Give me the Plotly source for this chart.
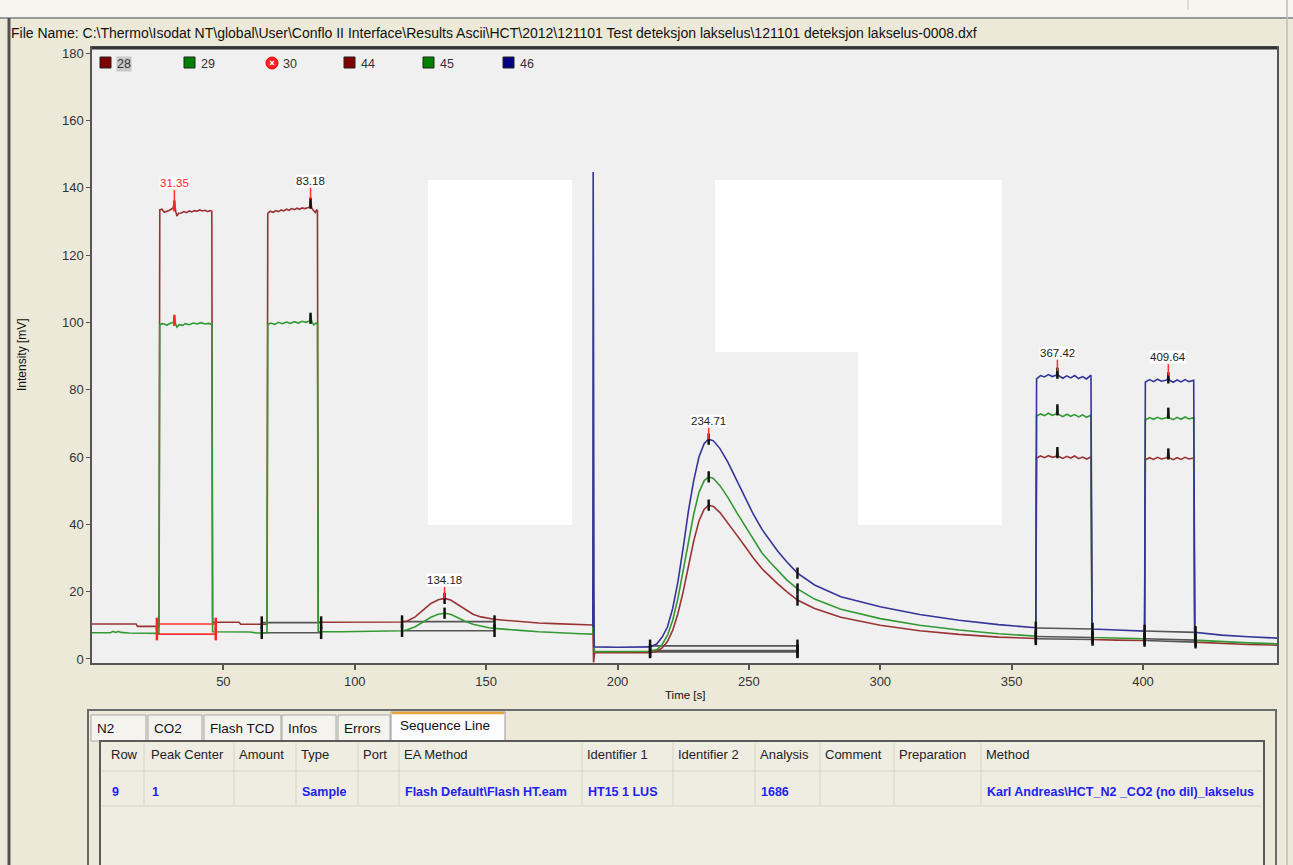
import plotly.graph_objects as go

W, H = 1293, 865
L, R, T, B = 92, 1277, 48, 663


def px(x):
    return (x - L) / (R - L)


def py(y):
    return (B - y) / (B - T)


# ---------------- data ----------------
legend_labels = ["28", "29", "30", "44", "45", "46"]
x_ticks = [50, 100, 150, 200, 250, 300, 350, 400]
y_ticks = [0, 20, 40, 60, 80, 100, 120, 140, 160, 180]

trace28 = [(0, 10.4), (8, 10.4), (16.8, 10.4), (17.3, 9.7), (25.5, 9.7), (25.8, 133.4), (26.6, 133.6),
           (27.5, 132.7), (28.5, 133.0), (29.5, 133.3), (30.9, 134.0), (31.35, 136.0), (31.8, 133.2),
           (32.3, 131.6), (33.0, 132.4), (34.0, 132.5), (35.0, 132.9), (36.0, 132.6), (37.0, 133.1),
           (38.0, 132.8), (39.0, 133.2), (40.0, 133.0), (41.0, 133.4), (42.0, 133.1), (43.0, 133.3),
           (44.0, 132.9), (45.0, 133.2), (45.6, 133.0), (45.9, 10.9), (50, 10.9), (56.0, 10.9),
           (56.6, 10.3), (64, 10.3), (66.6, 10.3), (66.9, 132.4), (67.8, 133.0), (69, 132.7),
           (70, 133.2), (71, 132.9), (72, 133.4), (73, 133.1), (74, 133.6), (75, 133.3), (76, 133.8),
           (77, 133.5), (78, 133.9), (79, 133.6), (80, 134.0), (81, 133.8), (82.8, 134.2),
           (83.18, 136.6), (83.6, 134.0), (84.3, 133.2), (85.0, 132.6), (85.5, 133.4), (85.8, 133.2),
           (86.1, 10.9), (95, 10.9), (105, 10.9), (112, 11.0), (118, 11.0), (120, 11.3), (123, 12.5),
           (126, 14.5), (129, 16.5), (131.8, 17.6), (134.2, 18.0), (136.5, 17.5), (139, 16.2),
           (142, 14.6), (145, 13.3), (148, 12.5), (151, 12.0), (153, 11.8), (157, 11.5), (163, 11.1),
           (170, 10.7), (176, 10.5), (181, 10.3), (186, 10.2), (190.6, 10.1)]

trace29 = [(0, 7.8), (7, 7.8), (8, 8.2), (9, 7.9), (10, 8.2), (11, 7.9), (14, 7.7), (20, 7.6),
           (25.5, 7.6), (25.8, 99.4), (27, 99.6), (28.5, 99.2), (30.0, 99.8), (30.9, 99.9),
           (31.35, 101.6), (31.8, 99.6), (32.3, 98.6), (33.2, 99.3), (34.5, 99.1), (35.5, 99.6),
           (37, 99.3), (38.5, 99.8), (40, 99.5), (41.5, 99.9), (43, 99.5), (44.5, 99.7), (45.6, 99.4),
           (45.9, 8.1), (55, 8.1), (60, 8.0), (63, 7.7), (66.6, 7.7), (66.9, 99.3), (68, 99.8),
           (69.5, 99.4), (71, 100.0), (72.5, 99.6), (74, 100.1), (75.5, 99.7), (77, 100.2),
           (78.5, 99.8), (80, 100.3), (81.5, 100.0), (82.8, 100.4), (83.18, 102.2), (83.6, 100.3),
           (84.4, 99.2), (85.2, 99.8), (85.8, 99.5), (86.1, 8.1), (95, 8.1), (105, 8.2), (112, 8.3),
           (118, 8.4), (120, 8.7), (123, 9.6), (126, 11.0), (129, 12.4), (131.8, 13.3), (134.2, 13.6),
           (136.5, 13.3), (139, 12.3), (142, 11.2), (145, 10.3), (148, 9.7), (151, 9.3), (153, 9.1),
           (157, 8.8), (163, 8.5), (170, 8.1), (176, 7.8), (181, 7.6), (186, 7.5), (190.6, 7.4)]

trace44 = [(190.6, 10.1), (190.9, -1.0), (191.3, 1.9), (200, 1.9), (212.4, 1.9), (215, 2.3), (217, 3.3),
           (219, 5.2), (221, 8.5), (223, 13.5), (225, 20.0), (227, 27.5), (229, 35.0), (231, 41.0),
           (233, 44.5), (234.7, 45.7), (236.5, 45.3), (239, 43.5), (242, 40.5), (245.4, 36.8),
           (248.5, 33.5), (251.7, 30.0), (255, 26.8), (258, 24.5), (261, 22.3), (264.4, 20.0),
           (268.5, 17.5), (275, 15.0), (285, 12.4), (300, 10.0), (315, 8.4), (330, 7.3), (345, 6.5),
           (359.2, 6.1), (359.5, 59.7), (361, 60.3), (362.5, 59.8), (364, 60.4), (365.5, 59.9),
           (367.0, 60.2), (367.42, 62.0), (367.8, 60.2), (369.5, 59.6), (371, 60.2), (372.5, 59.7),
           (374, 60.3), (375.5, 59.5), (377, 60.0), (378.5, 59.4), (380.2, 60.0), (380.6, 5.8),
           (390, 5.6), (400.6, 5.5), (400.9, 59.2), (402.5, 59.8), (404, 59.3), (405.5, 59.9),
           (407, 59.4), (409.2, 59.8), (409.64, 61.6), (410.0, 59.8), (411.5, 59.2), (413, 59.8),
           (414.5, 59.3), (416, 59.9), (417.5, 59.4), (419.3, 59.7), (419.7, 5.0), (430, 4.6),
           (440, 4.3), (451, 4.1)]

trace45 = [(190.6, 7.4), (190.9, 17.0), (191.2, 2.2), (200, 2.2), (212.4, 2.3), (215, 2.8), (217, 4.3),
           (219, 7.0), (221, 11.5), (223, 18.0), (225, 26.0), (227, 35.0), (229, 43.0), (231, 49.5),
           (233, 53.0), (234.7, 54.1), (236.5, 53.6), (239, 51.5), (242, 48.0), (245.4, 43.5),
           (248.5, 39.5), (251.7, 35.5), (255, 31.5), (258, 28.8), (261, 26.2), (264.4, 23.5),
           (268.5, 20.8), (275, 17.8), (285, 14.8), (300, 12.0), (315, 10.0), (330, 8.6), (345, 7.5),
           (359.2, 6.8), (359.5, 72.2), (361, 72.8), (362.5, 72.3), (364, 73.0), (365.5, 72.4),
           (367.0, 72.8), (367.42, 74.6), (367.8, 72.7), (369.5, 72.0), (371, 72.7), (372.5, 72.1),
           (374, 72.6), (375.5, 71.9), (377, 72.5), (378.5, 71.8), (380.2, 72.4), (380.6, 6.4),
           (390, 6.2), (400.6, 6.0), (400.9, 71.0), (402.5, 71.7), (404, 71.2), (405.5, 71.8),
           (407, 71.3), (409.2, 71.7), (409.64, 73.6), (410.0, 71.7), (411.5, 71.1), (413, 71.8),
           (414.5, 71.2), (416, 71.9), (417.5, 71.3), (419.3, 71.7), (419.7, 5.6), (430, 5.1),
           (440, 4.8), (451, 4.5)]

trace46 = [(190.6, 9.5), (190.75, 144.7), (191.1, 3.6), (200, 3.5), (212.4, 3.6), (215, 4.5), (217, 6.5),
           (219, 9.5), (221, 15.0), (223, 23.0), (225, 33.0), (227, 44.0), (229, 53.0), (231, 60.0),
           (233, 64.0), (234.7, 65.3), (236.5, 64.8), (239, 62.5), (242, 58.5), (245.4, 53.0),
           (248.5, 48.0), (251.7, 43.0), (255, 38.5), (258, 35.3), (261, 32.0), (264.4, 28.9),
           (268.5, 25.5), (275, 22.0), (285, 18.5), (300, 15.5), (315, 13.2), (330, 11.5), (345, 10.2),
           (359.2, 9.3), (359.5, 83.2), (361, 84.2), (362.5, 83.8), (364, 84.5), (365.5, 83.9),
           (367.0, 84.3), (367.42, 85.6), (367.8, 84.2), (369.5, 83.4), (371, 84.1), (372.5, 83.5),
           (374, 84.2), (375.5, 83.3), (377, 83.9), (378.5, 83.2), (380.2, 84.3), (380.6, 8.9),
           (390, 8.6), (400.6, 8.3), (400.9, 82.3), (402.5, 83.0), (404, 82.4), (405.5, 83.1),
           (407, 82.5), (409.2, 82.9), (409.64, 84.2), (410.0, 82.9), (411.5, 82.2), (413, 82.9),
           (414.5, 82.3), (416, 83.0), (417.5, 82.4), (419.3, 82.8), (419.7, 7.9), (430, 7.1),
           (440, 6.6), (451, 6.2)]

peak_centers = [31.35, 83.18, 134.18, 234.71, 367.42, 409.64]
peak_labels = ["31.35", "83.18", "134.18", "234.71", "367.42", "409.64"]
peak_tops = [136.0, 136.6, 18.0, 65.3, 85.6, 84.2]

# apex tick marks (time, value) on each trace
apex_red_t = [31.35, 31.35]
apex_red_v = [134.6, 100.6]
apex_blk_t = [83.18, 83.18, 134.18, 134.18, 234.71, 234.71, 234.71,
              367.42, 367.42, 367.42, 409.64, 409.64, 409.64, 268.5, 268.5, 268.5]
apex_blk_v = [135.4, 101.2, 18.0, 13.6, 65.3, 54.1, 45.7,
              84.9, 74.0, 61.3, 83.5, 73.0, 60.9, 25.5, 20.8, 17.5]

# integration baselines
bl_t0 = [24.7, 24.7, 64.6, 64.6, 118.0, 118.0, 212.4, 212.4, 212.4, 359.2, 359.2, 359.2, 400.6, 400.6, 400.6]
bl_t1 = [47.1, 47.1, 87.2, 87.2, 153.2, 153.2, 268.5, 268.5, 268.5, 380.8, 380.8, 380.8, 420.0, 420.0, 420.0]
bl_v0 = [10.4, 7.4, 10.8, 7.8, 11.1, 8.4, 3.9, 2.5, 2.1, 9.2, 6.7, 6.0, 8.3, 6.0, 5.5]
bl_v1 = [10.4, 7.4, 10.8, 7.8, 11.1, 8.4, 3.9, 2.5, 2.1, 8.9, 6.4, 5.8, 7.9, 5.6, 5.0]
bl_red = [True, True] + [False] * 13

file_name = ("File Name: C:\\Thermo\\Isodat NT\\global\\User\\Conflo II Interface\\Results Ascii\\HCT\\2012"
             "\\121101 Test deteksjon lakselus\\121101 deteksjon lakselus-0008.dxf")
tab_names = ["N2", "CO2", "Flash TCD", "Infos", "Errors", "Sequence Line"]
table_header = ["Row", "Peak Center", "Amount", "Type", "Port", "EA Method", "Identifier 1",
                "Identifier 2", "Analysis", "Comment", "Preparation", "Method"]
table_row = ["9", "1", "", "Sample", "", "Flash Default\\Flash HT.eam", "HT15 1 LUS",
             "", "1686", "", "", "Karl Andreas\\HCT_N2 _CO2 (no dil)_lakselus"]

# ---------------- style ----------------
C_RED = "#993333"
C_GRN = "#339933"
C_BLU = "#343499"
FONT = "Liberation Sans, Arial, sans-serif"

fig = go.Figure()


def add_line(pairs, color, name):
    xs = [p[0] for p in pairs]
    ys = [p[1] for p in pairs]
    fig.add_trace(go.Scatter(x=xs, y=ys, mode="lines", name=name, showlegend=False,
                             line=dict(color=color, width=1.6), hoverinfo="skip"))


# baselines
for t0, t1, v0, v1, red in zip(bl_t0, bl_t1, bl_v0, bl_v1, bl_red):
    fig.add_trace(go.Scatter(x=[t0, t1], y=[v0, v1], mode="lines", showlegend=False,
                             line=dict(color="#FF3333" if red else "#555555", width=1.6),
                             hoverinfo="skip"))

add_line(trace28, C_RED, "28")
add_line(trace29, C_GRN, "29")
add_line(trace44, C_RED, "44")
add_line(trace45, C_GRN, "45")
add_line(trace46, C_BLU, "46")

# baseline end ticks
bt_red_x, bt_red_y, bt_blk_x, bt_blk_y = [], [], [], []
for t0, t1, v0, v1, red in zip(bl_t0, bl_t1, bl_v0, bl_v1, bl_red):
    if red:
        bt_red_x += [t0, t1]
        bt_red_y += [v0, v1]
    else:
        bt_blk_x += [t0, t1]
        bt_blk_y += [v0, v1]

fig.add_trace(go.Scatter(x=bt_red_x, y=bt_red_y, mode="markers", showlegend=False, hoverinfo="skip",
                         marker=dict(symbol="line-ns", size=9, line=dict(color="#FF2222", width=2.5))))
fig.add_trace(go.Scatter(x=bt_blk_x, y=bt_blk_y, mode="markers", showlegend=False, hoverinfo="skip",
                         marker=dict(symbol="line-ns", size=9, line=dict(color="#111111", width=2.5))))
fig.add_trace(go.Scatter(x=apex_red_t, y=apex_red_v, mode="markers", showlegend=False, hoverinfo="skip",
                         marker=dict(symbol="line-ns", size=8, line=dict(color="#FF2222", width=2.5))))
fig.add_trace(go.Scatter(x=apex_blk_t, y=apex_blk_v, mode="markers", showlegend=False, hoverinfo="skip",
                         marker=dict(symbol="line-ns", size=8, line=dict(color="#111111", width=2.5))))

# red stems above peaks
stem_x, stem_y = [], []
for c, top in zip(peak_centers, peak_tops):
    stem_x += [c, c, None]
    stem_y += [top, top + 3.4, None]
fig.add_trace(go.Scatter(x=stem_x, y=stem_y, mode="lines", showlegend=False, hoverinfo="skip",
                         line=dict(color="#FF3030", width=1.5)))

annotations = []
for i, (c, top, lab) in enumerate(zip(peak_centers, peak_tops, peak_labels)):
    annotations.append(dict(x=c, y=top + 3.3, xref="x", yref="y", text=lab, showarrow=False,
                            xanchor="center", yanchor="bottom",
                            font=dict(family=FONT, size=11.5, color="#FF2020" if i == 0 else "#222222"),
                            bgcolor="rgba(255,255,255,0.85)", borderpad=0))

shapes = []


def rect(x0, y0, x1, y1, fill=None, line=None, width=1, layer="above"):
    shapes.append(dict(type="rect", xref="paper", yref="paper", x0=px(x0), x1=px(x1), y0=py(y0), y1=py(y1),
                       fillcolor=fill if fill else "rgba(0,0,0,0)",
                       line=dict(color=line if line else "rgba(0,0,0,0)", width=width if line else 0),
                       layer=layer))


def hline(x0, x1, y, color, width=1):
    shapes.append(dict(type="line", xref="paper", yref="paper", x0=px(x0), x1=px(x1), y0=py(y), y1=py(y),
                       line=dict(color=color, width=width)))


def vline(x, y0, y1, color, width=1):
    shapes.append(dict(type="line", xref="paper", yref="paper", x0=px(x), x1=px(x), y0=py(y0), y1=py(y1),
                       line=dict(color=color, width=width)))


def text(x, y, s, size=12, color="#111111", anchor="left", bold=False, bg=None, angle=0):
    annotations.append(dict(x=px(x), y=py(y), xref="paper", yref="paper", text=("<b>%s</b>" % s) if bold else s,
                            showarrow=False, xanchor=anchor, yanchor="middle", textangle=angle,
                            font=dict(family=FONT, size=size, color=color),
                            bgcolor=bg if bg else "rgba(0,0,0,0)", borderpad=0))


# white redaction blocks inside the plot
rect(428, 180, 572, 525, fill="#FFFFFF")
rect(715, 180, 1002, 352, fill="#FFFFFF")
rect(858, 351, 1002, 525, fill="#FFFFFF")

# plot frame top
hline(L, R, T, "#333333", 3)

# top strip and window frame
rect(0, 0, W, 18, fill="#F6F5F0", layer="below")
hline(0, W, 18, "#9A9A9A", 2)
vline(9, 18, H, "#505050", 3)
vline(1287, 0, H, "#BDBDBD", 1.5)
vline(1188, 0, 10, "#C8C8C8", 1)

# file name
text(10, 33, file_name, size=14, color="#111111")

# legend
leg_x = [100, 184, 266, 344, 423, 503]
leg_colors = ["#800000", "#008000", "#FF2020", "#800000", "#008000", "#000080"]
for lx, lc, lab in zip(leg_x, leg_colors, legend_labels):
    if lab == "30":
        shapes.append(dict(type="circle", xref="paper", yref="paper", x0=px(lx), x1=px(lx + 12),
                           y0=py(57), y1=py(69), fillcolor="#FF2020", line=dict(color="#E00000", width=1)))
        shapes.append(dict(type="line", xref="paper", yref="paper", x0=px(lx + 4), x1=px(lx + 8),
                           y0=py(61), y1=py(65), line=dict(color="white", width=1.5)))
        shapes.append(dict(type="line", xref="paper", yref="paper", x0=px(lx + 4), x1=px(lx + 8),
                           y0=py(65), y1=py(61), line=dict(color="white", width=1.5)))
    else:
        rect(lx, 57, lx + 11, 68, fill=lc, line="#222222", width=1)
    text(lx + 16, 64, lab, size=12.5, color="#333333", bg="#C8C8C8" if lab == "28" else None)

# axis titles
text(22, 355, "Intensity [mV]", size=12, color="#111111", anchor="center", angle=-90)
text(685, 695, "Time [s]", size=11.5, color="#111111", anchor="center")

# bottom panel
rect(88, 710, 1276, 880, fill="#ECE9D8", line="#6A6A6A", width=2)
tab_x = [(91, 146), (148, 202), (204, 281), (282, 336), (338, 390), (391, 505)]
for (a, b), name in zip(tab_x, tab_names):
    if name == "Sequence Line":
        rect(a, 712, b, 742, fill="#FCFCFE", line="#9A9A9A", width=1)
        hline(a + 1, b - 1, 713, "#E8A33C", 2.5)
        text(a + 8, 725, name, size=13.5, color="#111111")
    else:
        rect(a, 715, b, 741, fill="#F4F3EE", line="#A8A8A8", width=1)
        text(a + 5, 728, name, size=13.5, color="#111111")

rect(100, 741, 1264, 880, fill="#EFECE2", line="#5A5A5A", width=2)
col_left = [106, 146, 234, 296, 358, 399, 582, 673, 755, 820, 894, 981]
col_sep = [144, 234, 296, 358, 399, 582, 673, 755, 820, 894, 981]
for s in col_sep:
    vline(s, 743, 805, "#D6D2C4", 1)
hline(102, 1262, 771, "#D6D2C4", 1)
hline(102, 1262, 806, "#D6D2C4", 1)
for cx, h, v in zip(col_left, table_header, table_row):
    text(cx + 4, 754, h, size=13, color="#222222")
    if v:
        text(cx + 5, 792, v, size=12.5, color="#2222EE", bold=True)

fig.update_layout(
    width=W, height=H,
    margin=dict(l=L, r=W - R, t=T, b=H - B),
    paper_bgcolor="#ECE9D8",
    plot_bgcolor="#F0F0F0",
    showlegend=False,
    font=dict(family=FONT, size=11, color="#333333"),
    xaxis=dict(range=[0, 451], tickvals=x_ticks, ticks="outside", ticklen=5, tickwidth=1.5, tickcolor="#555555",
               showgrid=False, zeroline=False, showline=True, linecolor="#555555", linewidth=2, mirror=True,
               tickfont=dict(family=FONT, size=13, color="#333333")),
    yaxis=dict(range=[-1.19, 181.5], tickvals=y_ticks, ticks="outside", ticklen=4, tickcolor="#555555",
               showgrid=False, zeroline=False, showline=True, linecolor="#555555", linewidth=1.5, mirror=True,
               tickfont=dict(family=FONT, size=13, color="#333333")),
    shapes=shapes,
    annotations=annotations,
)

fig.write_html("out.html", config={"displayModeBar": False})
with open("out.html", "r", encoding="utf-8") as f:
    html = f.read()
html = html.replace("<head>", "<head><style>html,body{margin:0;padding:0;overflow:hidden;}</style>", 1)
with open("out.html", "w", encoding="utf-8") as f:
    f.write(html)
